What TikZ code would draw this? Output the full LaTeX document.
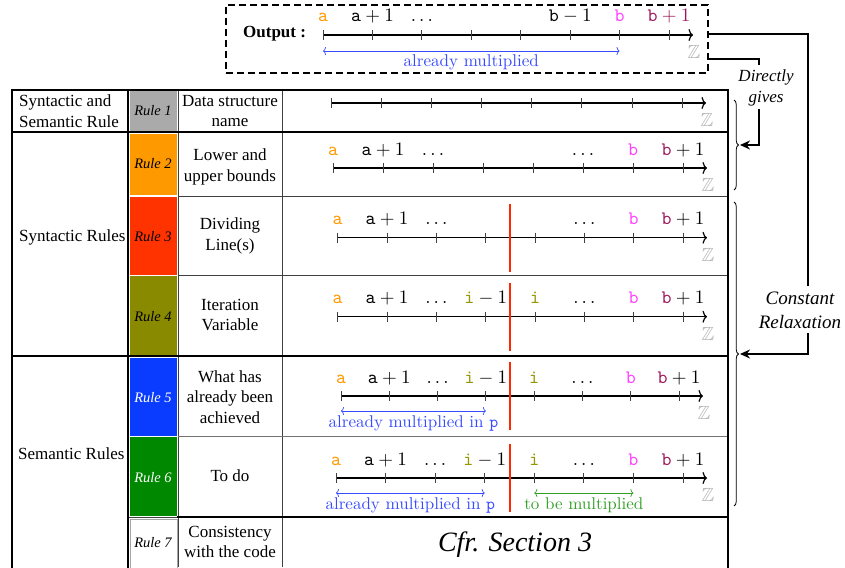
\RequirePackage{fix-cm}
\documentclass[tikz,border=0pt]{standalone}
\usepackage{amssymb}
\usepackage{fontspec}
\newfontfamily\tnr{Liberation Serif}
\usetikzlibrary{arrows.meta,decorations.pathreplacing}

\definecolor{cA}{RGB}{255,153,0}
\definecolor{cB}{RGB}{255,64,255}
\definecolor{cBB}{RGB}{155,25,90}
\definecolor{cI}{RGB}{150,150,0}
\definecolor{cBlue}{RGB}{55,75,255}
\definecolor{cGreen}{RGB}{50,160,40}
\definecolor{rA}{RGB}{170,170,170}
\definecolor{rB}{RGB}{255,153,0}
\definecolor{rC}{RGB}{255,51,0}
\definecolor{rD}{RGB}{138,138,0}
\definecolor{rE}{RGB}{10,60,255}
\definecolor{rF}{RGB}{0,136,0}
\definecolor{divred}{RGB}{255,40,0}

\newcommand{\labA}{\textcolor{cA}{\texttt{a}}}
\newcommand{\labAp}{$\mathtt{a}+1$}
\newcommand{\labB}{\textcolor{cB}{\texttt{b}}}
\newcommand{\labBp}{$\textcolor{cBB}{\mathtt{b}}+1$}
\newcommand{\labBpAll}{\textcolor{cBB}{$\mathtt{b}+1$}}
\newcommand{\labBm}{$\mathtt{b}-1$}
\newcommand{\labIm}{$\textcolor{cI}{\mathtt{i}}-1$}
\newcommand{\labI}{\textcolor{cI}{\texttt{i}}}
\newcommand{\labDots}{$\dots$}

\newcommand{\setaxis}[3]{\gdef\axY{#1}\gdef\axX{#2}\gdef\axS{#3}}
\newcommand{\drawaxis}[5]{% y, x0, step, tip, zname
  \setaxis{#1}{#2}{#3}
  \draw[axisline] (#2,#1) -- (#4,#1);
  \foreach \k in {0,...,7}{\draw[tickmark] ({#2+\k*#3},{#1-5}) -- ({#2+\k*#3},{#1+5});}
  \node[zlab] (#5) at ({#4+1},{#1+17}) {\scalebox{1.9}{$\mathbb{Z}$}};
}
\newcommand{\tlab}[3]{\node[numlab] (#1) at ({\axX+#2*\axS},{\axY-13}) {\scalebox{1.9}{#3}};}
\newcommand{\spanlab}[4]{\node[spantext, text=#2] (#1) at (#3) {\scalebox{1.7}{#4}};}
\newcommand{\divider}[2]{\draw[divline] (510,{\axY-34}) -- (510,{\axY+34});}

\tikzset{
  tbl thick/.style={line width=2.6pt, line cap=rect},
  tbl thin/.style={line width=0.9pt, black!75},
  axisline/.style={line width=1.2pt, -{To[length=4.5pt,width=12pt]}},
  tickmark/.style={line width=0.9pt, black!75},
  numlab/.style={anchor=base, inner sep=0pt, font=\fontsize{10}{12}\selectfont},
  zlab/.style={inner sep=0pt, text=black!30, font=\fontsize{10}{12}\selectfont},
  divline/.style={line width=2.8pt, divred},
  spanarrow/.style={line width=0.7pt, {To[length=3pt,width=8pt]}-{To[length=3pt,width=8pt]}},
  spantext/.style={anchor=base, inner sep=0pt, font=\fontsize{10}{12}\selectfont},
  celltext/.style={align=center, inner sep=0pt, font=\tnr\fontsize{17}{20.5}\selectfont},
  ruletext/.style={inner sep=0pt, font=\tnr\itshape\fontsize{14.5}{17}\selectfont},
  sidetext/.style={align=center, inner sep=0pt, font=\tnr\itshape\fontsize{17}{21}\selectfont},
  connline/.style={line width=1.4pt},
  connector/.style={line width=1.4pt, -{Stealth[length=10pt,width=9pt]}},
  bracedec/.style={decorate, decoration={brace, amplitude=4.5pt}, line width=0.8pt},
}

\begin{document}
\begin{tikzpicture}[x=1pt,y=-1pt]
\useasboundingbox (0,0) rectangle (845,567);

% ---------- output box ----------
\node[draw, line width=1.8pt, dash pattern=on 7pt off 4pt, minimum width=482pt, minimum height=68pt, inner sep=0pt] (outbox) at (467,39) {};
\node[anchor=base west, inner sep=0pt, font=\tnr\bfseries\fontsize{17}{20}\selectfont] (outlbl) at (243,38) {Output :};
\drawaxis{35}{323}{49.43}{693}{zout}
\tlab{oa}{0}{\labA}
\tlab{oap}{1}{\labAp}
\tlab{od1}{2}{\labDots}
\tlab{obm}{5}{\labBm}
\tlab{ob}{6}{\labB}
\tlab{obp}{7}{\labBpAll}
\coordinate (ol) at ({\axX},{\axY+16});
\coordinate (or) at ({\axX+6*\axS},{\axY+16});
\draw[spanarrow, cBlue] (ol) -- (or);
\spanlab{otext}{cBlue}{{\axX+3*\axS},{\axY+31.5}}{already multiplied}

% ---------- rule cell fills ----------
\fill[rA] (129.5,91.5) rectangle (177,130.5);
\fill[rB] (129.5,133.5) rectangle (177,195.3);
\fill[rC] (129.5,197) rectangle (177,274.5);
\fill[rD] (129.5,276) rectangle (177,354.5);
\fill[rE] (129.5,357.5) rectangle (177,435.5);
\fill[rF] (129.5,437) rectangle (177,515.5);
\draw[black!35, line width=0.6pt] (130,519) rectangle (177,568);

% ---------- table lines ----------
\draw[tbl thin] (178,90) -- (178,567);
\draw[tbl thin] (282,90) -- (282,567);
\draw[tbl thin] (178,196) -- (728,196);
\draw[tbl thin] (178,275) -- (728,275);
\draw[tbl thin, black!55] (178,436) -- (728,436);
\draw[tbl thin] (128,517.5) -- (178,517.5);
\draw[tbl thick] (178,517) -- (728,517);
\draw[tbl thick] (12,356) -- (728,356);
\draw[tbl thick] (12,132) -- (728,132);
\draw[tbl thick] (12,90) -- (728,90);
\draw[tbl thick] (12,90) -- (12,568);
\draw[tbl thick] (128,90) -- (128,568);
\draw[tbl thick] (728,90) -- (728,568);

% ---------- column 1 ----------
\node[celltext, align=left, anchor=west] (grpA) at (19,111) {Syntactic and\\Semantic Rule};
\node[celltext, anchor=west] (grpB) at (19,237) {Syntactic Rules};
\node[celltext, anchor=west] (grpC) at (18,454) {Semantic Rules};

% ---------- column 2 ----------
\node[ruletext] (ruleA) at (153,111) {Rule 1};
\node[ruletext] (ruleB) at (153,164) {Rule 2};
\node[ruletext] (ruleC) at (153,237) {Rule 3};
\node[ruletext] (ruleD) at (153,317) {Rule 4};
\node[ruletext, text=white] (ruleE) at (153,398) {Rule 5};
\node[ruletext, text=white] (ruleF) at (153,478) {Rule 6};
\node[ruletext] (ruleG) at (153,543) {Rule 7};

% ---------- column 3 ----------
\node[celltext] (descA) at (230,111) {Data structure\\name};
\node[celltext] (descB) at (230,167) {Lower and\\upper bounds};
\node[celltext] (descC) at (230,236) {Dividing\\Line(s)};
\node[celltext] (descD) at (230,315) {Iteration\\Variable};
\node[celltext] (descE) at (230,397) {What has\\already been\\achieved};
\node[celltext] (descF) at (230,476) {To do};
\node[celltext] (descG) at (230,542) {Consistency\\with the code};

% ---------- row 1 ----------
\drawaxis{103}{331.7}{50.04}{706}{zA}

% ---------- row 2 ----------
\drawaxis{168}{333}{50}{707}{zB}
\tlab{ba}{0}{\labA}
\tlab{bap}{1}{\labAp}
\tlab{bd1}{2}{\labDots}
\tlab{bd2}{5}{\labDots}
\tlab{bb}{6}{\labB}
\tlab{bbp}{7}{\labBp}

% ---------- row 3 ----------
\drawaxis{237.7}{337.7}{49.33}{707}{zC}
\divider{}{}
\tlab{ca}{0}{\labA}
\tlab{cap}{1}{\labAp}
\tlab{cd1}{2}{\labDots}
\tlab{cd2}{5}{\labDots}
\tlab{cb}{6}{\labB}
\tlab{cbp}{7}{\labBp}

% ---------- row 4 ----------
\drawaxis{316.7}{337.7}{49.33}{707}{zD}
\divider{}{}
\tlab{da}{0}{\labA}
\tlab{dap}{1}{\labAp}
\tlab{dd1}{2}{\labDots}
\tlab{dim}{3}{\labIm}
\tlab{di}{4}{\labI}
\tlab{dd2}{5}{\labDots}
\tlab{db}{6}{\labB}
\tlab{dbp}{7}{\labBp}

% ---------- row 5 ----------
\drawaxis{396}{341}{48.29}{703}{zE}
\divider{}{}
\tlab{ea}{0}{\labA}
\tlab{eap}{1}{\labAp}
\tlab{ed1}{2}{\labDots}
\tlab{eim}{3}{\labIm}
\tlab{ei}{4}{\labI}
\tlab{ed2}{5}{\labDots}
\tlab{eb}{6}{\labB}
\tlab{ebp}{7}{\labBp}
\coordinate (el) at ({\axX},{\axY+15});
\coordinate (er) at ({\axX+3*\axS},{\axY+15});
\draw[spanarrow, cBlue] (el) -- (er);
\spanlab{etext}{cBlue}{{\axX+1.5*\axS},{\axY+31.5}}{already multiplied in \texttt{p}}

% ---------- row 6 ----------
\drawaxis{478}{336}{49.57}{707}{zF}
\divider{}{}
\tlab{fa}{0}{\labA}
\tlab{fap}{1}{\labAp}
\tlab{fd1}{2}{\labDots}
\tlab{fim}{3}{\labIm}
\tlab{fi}{4}{\labI}
\tlab{fd2}{5}{\labDots}
\tlab{fb}{6}{\labB}
\tlab{fbp}{7}{\labBp}
\coordinate (fl) at ({\axX},{\axY+15});
\coordinate (fr) at ({\axX+3*\axS},{\axY+15});
\draw[spanarrow, cBlue] (fl) -- (fr);
\spanlab{ftext}{cBlue}{{\axX+1.5*\axS},{\axY+31.5}}{already multiplied in \texttt{p}}
\coordinate (gl) at ({\axX+4*\axS},{\axY+15});
\coordinate (gr) at ({\axX+6*\axS},{\axY+15});
\draw[spanarrow, cGreen] (gl) -- (gr);
\spanlab{gtext}{cGreen}{{\axX+5*\axS},{\axY+31.5}}{to be multiplied}

% ---------- row 7 ----------
\node[inner sep=0pt, font=\tnr\itshape\fontsize{28}{32}\selectfont] (cfr) at (515,545) {Cfr. Section 3};

% ---------- braces ----------
\draw[bracedec] (734,100) -- (734,190);
\draw[bracedec] (734,202) -- (734,506);
\coordinate (braceAtip) at (740,145);
\coordinate (braceBtip) at (740,354);

% ---------- connectors ----------
\node[sidetext] (dgtext) at (766,88) {Directly\\gives};
\node[sidetext, font=\tnr\itshape\fontsize{19}{24}\selectfont] (crtext) at (800,310) {Constant\\Relaxation};

\coordinate (cs) at (708,34);
\coordinate (ca1) at (808,34);
\coordinate (ca2) at (808,286);
\coordinate (ca3) at (808,333);
\coordinate (ca4) at (808,354);
\draw[connline] (cs) -- (ca1) -- (ca2);
\draw[connector] (ca3) -- (ca4) -- (braceBtip);

\coordinate (ds) at (708,59);
\coordinate (da1) at (759,59);
\coordinate (da2) at (759,65);
\coordinate (da3) at (759,109);
\coordinate (da4) at (759,145);
\draw[connline] (ds) -- (da1) -- (da2);
\draw[connector] (da3) -- (da4) -- (braceAtip);

\end{tikzpicture}
\end{document}
